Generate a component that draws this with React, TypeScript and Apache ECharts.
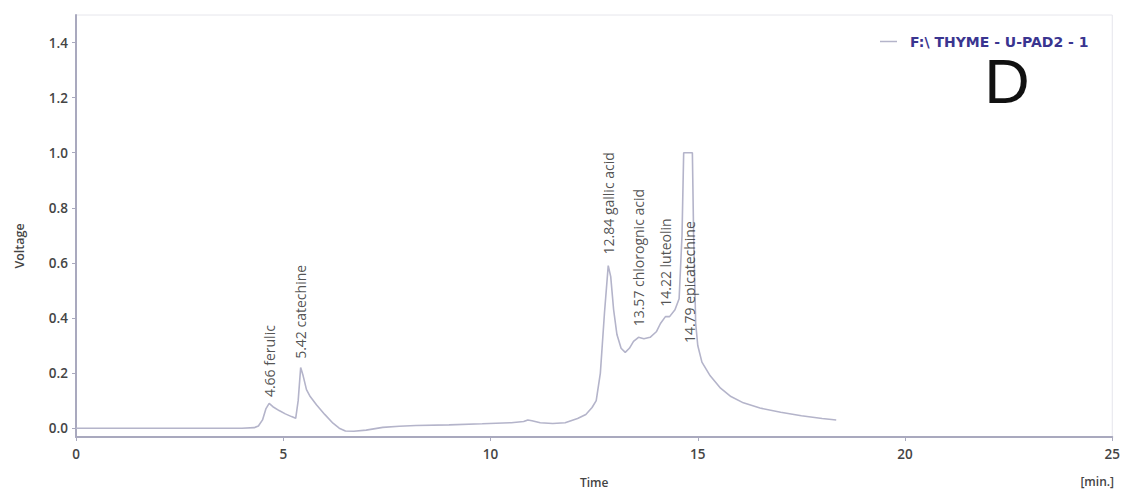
import React, { useEffect, useRef } from "react";
import * as echarts from "echarts";

const seriesName = "F:\\ THYME - U-PAD2 - 1";

const times: number[] = [
  0, 1, 2, 3, 4, 4.3, 4.4, 4.5, 4.58, 4.66, 4.75, 4.9, 5.05, 5.2, 5.3, 5.36, 5.42, 5.48, 5.56, 5.65,
  5.8, 6.0, 6.2, 6.35, 6.5, 6.7, 7.0, 7.4, 7.8, 8.2, 9.0, 9.8, 10.5, 10.8, 10.9, 11.0, 11.2, 11.5,
  11.8, 12.1, 12.3, 12.45, 12.55, 12.65, 12.75, 12.84, 12.9, 12.97, 13.05, 13.15, 13.25, 13.35,
  13.45, 13.57, 13.7, 13.85, 14.0, 14.1, 14.22, 14.32, 14.45, 14.55, 14.62, 14.66, 14.87, 14.9,
  14.95, 15.0, 15.1, 15.3, 15.55, 15.8, 16.1, 16.5, 17.0, 17.5, 18.0, 18.34,
];

const voltages: number[] = [
  0, 0, 0, 0, 0, 0.002, 0.008, 0.03, 0.07, 0.09, 0.078, 0.064, 0.052, 0.042, 0.036, 0.1, 0.22, 0.19,
  0.14, 0.115, 0.085, 0.05, 0.018, 0.0, -0.01, -0.011, -0.007, 0.003, 0.007, 0.01, 0.012, 0.016,
  0.02, 0.024, 0.03, 0.027, 0.02, 0.017, 0.02, 0.035, 0.05, 0.075, 0.1, 0.2, 0.42, 0.59, 0.55,
  0.43, 0.34, 0.29, 0.275, 0.29, 0.315, 0.33, 0.325, 0.33, 0.35, 0.38, 0.405, 0.405, 0.43, 0.47,
  0.7, 1.0, 1.0, 0.7, 0.38, 0.3, 0.24, 0.19, 0.145, 0.115, 0.092, 0.073, 0.058, 0.045, 0.035, 0.03,
];

const peakNames: string[] = [
  "4.66 ferulic",
  "5.42 catechine",
  "12.84 gallic acid",
  "13.57 chlorognic acid",
  "14.22 luteolin",
  "14.79 epicatechine",
];
const peakTimes: number[] = [4.66, 5.42, 12.84, 13.57, 14.22, 14.79];
const peakLabelBase: number[] = [0.111, 0.25, 0.629, 0.368, 0.439, 0.307];

const xTickInterval = 5;
const yTickInterval = 0.2;

export default function App() {
  const ref = useRef<HTMLDivElement>(null);

  useEffect(() => {
    if (!ref.current) return;
    const chart = echarts.init(ref.current, undefined, { renderer: "svg" });
    const axisColor = "#a9a9be";
    const labelFont = {
      color: "#444444",
      fontFamily: "Open Sans",
      fontSize: 13.5,
      fontWeight: 600 as any,
    };
    chart.setOption({
      animation: false,
      backgroundColor: "#ffffff",
      grid: {
        left: 76,
        right: 7,
        top: 15,
        bottom: 51,
        show: true,
        borderColor: "#e6e6ec",
        borderWidth: 1,
      },
      legend: {
        left: 875,
        top: 29,
        itemWidth: 17,
        itemHeight: 1.5,
        textStyle: {
          color: "#3a3590",
          fontFamily: "DejaVu Sans",
          fontWeight: "bold",
          fontSize: 14,
          lineHeight: 15,
          padding: [0, 0, 0, 8],
        },
        data: [{ name: seriesName, icon: "rect" }],
      },
      xAxis: {
        type: "value",
        min: 0,
        max: 25,
        interval: xTickInterval,
        axisLine: { show: true, onZero: false, lineStyle: { color: axisColor, width: 2 } },
        axisTick: { show: true, length: 4, lineStyle: { color: axisColor } },
        axisLabel: { ...labelFont, margin: 10 },
        splitLine: { show: false },
        name: "Time",
        nameLocation: "middle",
        nameGap: 39,
        nameTextStyle: { color: "#444", fontFamily: "Open Sans", fontSize: 12, fontWeight: 600 },
      },
      yAxis: {
        type: "value",
        min: -0.032,
        max: 1.5,
        minInterval: yTickInterval,
        maxInterval: yTickInterval,
        splitNumber: 8,
        axisLine: { show: true, lineStyle: { color: axisColor, width: 2 } },
        axisTick: { show: true, length: 4, lineStyle: { color: axisColor } },
        axisLabel: {
          ...labelFont,
          margin: 8,
          showMinLabel: false,
          showMaxLabel: false,
          formatter: (v: number) => (Math.abs(v) < 1e-9 ? "0.0" : v.toFixed(1)),
        },
        splitLine: { show: false },
      },
      series: [
        {
          name: seriesName,
          type: "line",
          symbol: "none",
          clip: false,
          lineStyle: { color: "#b4b4ca", width: 1.6 },
          itemStyle: { color: "#b4b4ca" },
          data: times.map((t, i) => [t, voltages[i]]),
          z: 2,
        },
        {
          name: "peaks",
          type: "scatter",
          symbol: "circle",
          symbolSize: 1,
          silent: true,
          itemStyle: { color: "rgba(0,0,0,0)" },
          data: peakTimes.map((t, i) => ({ value: [t, peakLabelBase[i]], name: peakNames[i] })),
          label: {
            show: true,
            position: "top",
            distance: 0,
            rotate: 90,
            align: "left",
            verticalAlign: "middle",
            formatter: (p: any) => p.name,
            color: "#262626",
            fontFamily: "Open Sans",
            fontSize: 14,
          },
          z: 3,
        },
      ],
      graphic: [
        {
          type: "text",
          x: 1007,
          y: 81,
          style: {
            text: "D",
            fontFamily: "Liberation Sans",
            fontSize: 63,
            lineHeight: 44,
            fill: "#111",
            align: "center",
            verticalAlign: "middle",
          },
        },
        {
          type: "text",
          x: 19,
          y: 246,
          rotation: Math.PI / 2,
          style: {
            text: "Voltage",
            fontFamily: "Open Sans",
            fontSize: 12.5,
            fontWeight: 600,
            fill: "#444",
            align: "center",
            verticalAlign: "middle",
          },
        },
        {
          type: "text",
          x: 1114,
          y: 481,
          style: {
            text: "[min.]",
            fontFamily: "Open Sans",
            fontSize: 12,
            fontWeight: 600,
            fill: "#444",
            align: "right",
            verticalAlign: "middle",
          },
        },
      ],
    });
    return () => chart.dispose();
  }, []);

  return (
    <div
      ref={ref}
      style={{ position: "fixed", left: 0, top: 0, width: 1123, height: 493, background: "#fff" }}
    />
  );
}
